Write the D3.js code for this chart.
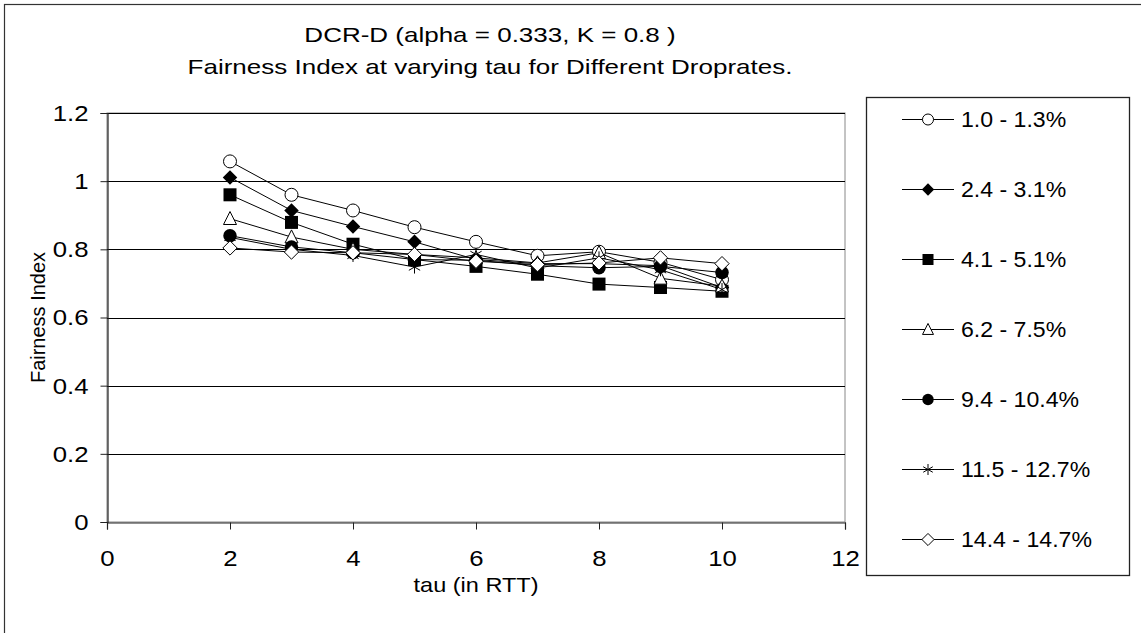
<!DOCTYPE html>
<html>
<head>
<meta charset="utf-8">
<script src="https://cdn.jsdelivr.net/npm/d3@7"></script>
<style>
  html, body { margin: 0; padding: 0; background: #fff; }
  svg { display: block; }
  text { font-family: "Liberation Sans", Arial, sans-serif; fill: #000; }
</style>
</head>
<body>
<svg id="chart" width="1141" height="633"></svg>
<script>
// tau values (in RTT)
const taus = [2, 3, 4, 5, 6, 7, 8, 9, 10];

// drop-rate ranges, one series each
const seriesNames = ["1.0 - 1.3%", "2.4 - 3.1%", "4.1 - 5.1%", "6.2 - 7.5%", "9.4 - 10.4%", "11.5 - 12.7%", "14.4 - 14.7%"];
const seriesSymbols = ["circleOpen", "diamondFilled", "squareFilled", "triangleOpen", "circleFilled", "star", "diamondOpen"];

// fairness index per series, per tau
const fair_1_0 = [1.058, 0.960, 0.914, 0.865, 0.822, 0.781, 0.793, 0.762, 0.711];
const fair_2_4 = [1.011, 0.914, 0.867, 0.822, 0.770, 0.758, 0.758, 0.752, 0.688];
const fair_4_1 = [0.960, 0.879, 0.815, 0.770, 0.750, 0.727, 0.698, 0.688, 0.677];
const fair_6_2 = [0.890, 0.836, 0.800, 0.785, 0.775, 0.760, 0.790, 0.715, 0.692];
const fair_9_4 = [0.840, 0.807, 0.790, 0.770, 0.768, 0.752, 0.746, 0.750, 0.732];
const fair_11_5 = [0.835, 0.800, 0.782, 0.748, 0.785, 0.745, 0.775, 0.740, 0.682];
const fair_14_4 = [0.804, 0.792, 0.790, 0.785, 0.765, 0.755, 0.760, 0.775, 0.758];
const seriesValues = [fair_1_0, fair_2_4, fair_4_1, fair_6_2, fair_9_4, fair_11_5, fair_14_4];

const xTicks = [0, 2, 4, 6, 8, 10, 12];
const yTicks = [0, 0.2, 0.4, 0.6, 0.8, 1, 1.2];

const titleLines = ["DCR-D (alpha = 0.333, K = 0.8 )", "Fairness Index at varying tau for Different Droprates."];
const xTitle = "tau (in RTT)";
const yTitle = "Fairness Index";

const svg = d3.select("#chart");

// widen glyphs horizontally around each text's own anchor point
function stretch(sel, s) {
  sel.each(function () {
    const t = d3.select(this);
    const tx = +t.attr("x") || 0;
    const ty = +t.attr("y") || 0;
    t.attr("x", 0).attr("y", 0).attr("transform", `translate(${tx},${ty}) scale(${s},1)`);
  });
}

// outer chart frame
svg.append("rect")
  .attr("x", 4.5).attr("y", 4.5)
  .attr("width", 1142).attr("height", 640)
  .attr("fill", "none").attr("stroke", "#333").attr("stroke-width", 1.2);

const plot = { left: 107, right: 845, top: 113, bottom: 522 };

const x = d3.scaleLinear().domain([0, 12]).range([plot.left, plot.right]);
const y = d3.scaleLinear().domain([0, 1.2]).range([plot.bottom, plot.top]);

// plot area border
svg.append("rect")
  .attr("x", plot.left).attr("y", plot.top)
  .attr("width", plot.right - plot.left).attr("height", plot.bottom - plot.top)
  .attr("fill", "none").attr("stroke", "#888").attr("stroke-width", 1);

// horizontal gridlines
svg.append("g").selectAll("line")
  .data(yTicks.filter(d => d > 0))
  .join("line")
  .attr("x1", plot.left).attr("x2", plot.right)
  .attr("y1", d => Math.round(y(d)) + 0.5).attr("y2", d => Math.round(y(d)) + 0.5)
  .attr("stroke", "#000").attr("stroke-width", 1);

// axes
const xAxis = svg.append("g")
  .attr("transform", `translate(0,${plot.bottom + 0.5})`)
  .call(d3.axisBottom(x).tickValues(xTicks).tickSize(7).tickPadding(20).tickFormat(d3.format("d")));
const yAxis = svg.append("g")
  .attr("transform", `translate(${plot.left + 0.5},0)`)
  .call(d3.axisLeft(y).tickValues(yTicks).tickSize(7).tickPadding(12).tickFormat(d => d3.format("")(+d.toFixed(1))));

[xAxis, yAxis].forEach(g => {
  g.select(".domain").attr("stroke", "#222").attr("stroke-width", 1.2);
  g.selectAll(".tick line").attr("stroke", "#222");
  g.selectAll(".tick text")
    .attr("font-family", "Liberation Sans, Arial, sans-serif")
    .attr("font-size", 23).attr("fill", "#000");
});
xAxis.selectAll(".tick text").attr("dy", "0.71em");
stretch(xAxis.selectAll(".tick text"), 1.12);
stretch(yAxis.selectAll(".tick text"), 1.12);

// axis titles
svg.append("text")
  .attr("x", x(6)).attr("y", 592)
  .attr("text-anchor", "middle").attr("font-size", 21)
  .text(xTitle)
  .call(stretch, 1.12);
svg.append("text")
  .attr("transform", `translate(45,${(plot.top + plot.bottom) / 2}) rotate(-90)`)
  .attr("text-anchor", "middle").attr("font-size", 20)
  .text(yTitle);

// chart title
svg.append("g").selectAll("text")
  .data(titleLines)
  .join("text")
  .attr("x", 490).attr("y", (d, i) => 42 + i * 32)
  .attr("text-anchor", "middle").attr("font-size", 20)
  .text(d => d)
  .call(stretch, 1.3);

// marker drawing
function drawMarker(g, kind, size) {
  const s = size;
  switch (kind) {
    case "circleOpen":
      g.append("circle").attr("r", s * 0.5).attr("fill", "#fff").attr("stroke", "#000").attr("stroke-width", 1);
      break;
    case "circleFilled":
      g.append("circle").attr("r", s * 0.52).attr("fill", "#000");
      break;
    case "diamondFilled":
      g.append("path").attr("d", `M0,${-s * 0.56}L${s * 0.56},0L0,${s * 0.56}L${-s * 0.56},0Z`).attr("fill", "#000");
      break;
    case "diamondOpen":
      g.append("path").attr("d", `M0,${-s * 0.55}L${s * 0.55},0L0,${s * 0.55}L${-s * 0.55},0Z`).attr("fill", "#fff").attr("stroke", "#000").attr("stroke-width", 1);
      break;
    case "squareFilled":
      g.append("rect").attr("x", -s * 0.5).attr("y", -s * 0.5).attr("width", s).attr("height", s).attr("fill", "#000");
      break;
    case "triangleOpen":
      g.append("path").attr("d", `M0,${-s * 0.55}L${s * 0.5},${s * 0.45}L${-s * 0.5},${s * 0.45}Z`).attr("fill", "#fff").attr("stroke", "#000").attr("stroke-width", 1);
      break;
    case "star": {
      const r = s * 0.5;
      g.append("path")
        .attr("d", `M0,${-r}V${r}M${-r * 0.87},${-r * 0.5}L${r * 0.87},${r * 0.5}M${-r * 0.87},${r * 0.5}L${r * 0.87},${-r * 0.5}`)
        .attr("stroke", "#000").attr("stroke-width", 1).attr("fill", "none");
      break;
    }
  }
}

const line = d3.line().x((d, i) => x(taus[i])).y(d => y(d));

// series lines first, then markers on top
const seriesG = svg.append("g");
seriesValues.forEach(vals => {
  seriesG.append("path")
    .attr("d", line(vals))
    .attr("fill", "none").attr("stroke", "#000").attr("stroke-width", 1);
});
seriesValues.forEach((vals, k) => {
  vals.forEach((v, i) => {
    const g = seriesG.append("g").attr("transform", `translate(${x(taus[i])},${y(v)})`);
    drawMarker(g, seriesSymbols[k], 13);
  });
});

// legend
const legend = { left: 866, top: 97, right: 1129, bottom: 575 };
svg.append("rect")
  .attr("x", legend.left + 0.5).attr("y", legend.top + 0.5)
  .attr("width", legend.right - legend.left).attr("height", legend.bottom - legend.top)
  .attr("fill", "#fff").attr("stroke", "#222").attr("stroke-width", 1.3);

const legendY = d3.scalePoint().domain(seriesNames).range([119, 539]);
const legItems = svg.append("g").selectAll("g")
  .data(seriesNames)
  .join("g")
  .attr("transform", d => `translate(0,${legendY(d)})`);
legItems.append("line")
  .attr("x1", 902).attr("x2", 954).attr("y1", 0.5).attr("y2", 0.5)
  .attr("stroke", "#000").attr("stroke-width", 1);
legItems.each(function (d, i) {
  const g = d3.select(this).append("g").attr("transform", "translate(928,0.5)");
  drawMarker(g, seriesSymbols[i], 11);
});
legItems.append("text")
  .attr("x", 961).attr("y", 0).attr("dy", "0.36em")
  .attr("font-size", 22)
  .text(d => d)
  .call(stretch, 1.05);
</script>
</body>
</html>
